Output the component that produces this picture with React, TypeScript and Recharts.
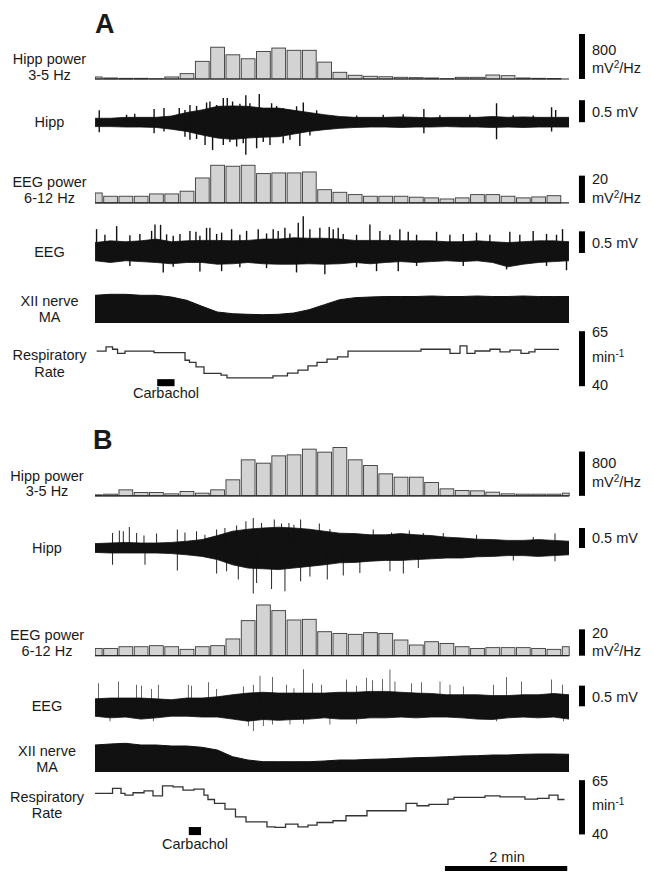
import React from 'react';
import { ComposedChart, Bar, Area, Line, XAxis, YAxis, ReferenceLine, ReferenceArea } from 'recharts';

// time axis shared by every row: seconds from the left edge of the traces
const LEFT = 95;
const CHART_W = 559;
const PX_PER_S = 474 / 465;
const T_MAX = CHART_W / PX_PER_S;
const SB_T = (582 - LEFT) / PX_PER_S; // x of the vertical scale bars
const BIN_W = 15 * PX_PER_S;
const FONT = "'Liberation Sans', Arial, Helvetica, sans-serif";

// centres of the 15 s power bins
const binT = [0, 15, 30, 45, 60, 75, 90, 105, 120, 135, 150, 165, 180, 195, 210, 225, 240, 255, 270, 285, 300, 315, 330, 345, 360, 375, 390, 405, 420, 435, 450, 465];

// ---- panel A ----
const hippPowA = [36, 18, 12, 12, 5, 36, 95, 314, 565, 430, 360, 490, 550, 510, 510, 300, 119, 66, 48, 40, 30, 24, 18, 6, 30, 30, 71, 59, 18, 12, 8];
const eegPowA = [7.3, 4.9, 4.9, 4.9, 6.6, 6.6, 8.6, 18.3, 27.6, 26.9, 27.6, 21.5, 22, 22, 22.7, 9.7, 7.8, 6.1, 4.9, 4.9, 4.9, 4.2, 3.7, 2.9, 3.7, 6.1, 6.1, 4.9, 3.7, 4.4, 5.3];

// hipp trace A, dense core envelope (mV)
const hippHiA = [0.09, 0.09, 0.11, 0.11, 0.11, 0.14, 0.22, 0.28, 0.36, 0.37, 0.36, 0.32, 0.32, 0.27, 0.22, 0.17, 0.13, 0.11, 0.11, 0.11, 0.12, 0.11, 0.1, 0.11, 0.11, 0.11, 0.13, 0.11, 0.12, 0.11, 0.11, 0.11];
const hippLoA = [-0.1, -0.1, -0.11, -0.11, -0.12, -0.16, -0.21, -0.29, -0.36, -0.39, -0.36, -0.34, -0.33, -0.27, -0.21, -0.17, -0.14, -0.12, -0.11, -0.11, -0.12, -0.11, -0.11, -0.1, -0.11, -0.11, -0.12, -0.11, -0.12, -0.11, -0.11, -0.11];
// [t, top, bottom]
const hippSpikesA = [
  [4.2, 0.27, -0.23], [31, 0.17, 0], [39, 0.19, 0], [58, 0.3, -0.25], [67.7, 0.32, -0.21], [82.7, 0.32, 0],
  [88.3, 0.28, -0.33], [93.2, 0.39, -0.4], [99.7, 0.37, -0.38], [108, 0, -0.52], [109.5, 0.45, 0], [112.8, 0.47, 0],
  [115.4, 0, -0.63], [119.4, 0.39, 0], [125.9, 0.55, -0.52], [129.8, 0.55, 0], [132.4, 0, -0.45], [135, 0.47, 0],
  [139, 0, -0.55], [142.2, 0.42, 0], [145.5, 0, -0.48], [148, 0.61, -0.74], [152, 0.43, 0], [158.6, 0, -0.59],
  [161.2, 0.64, 0], [165.1, 0, -0.45], [171.7, 0, -0.52], [173.3, 0.43, 0], [178.2, 0.37, 0], [184.7, 0.32, -0.48],
  [191.3, 0, -0.4], [197.8, 0.36, 0], [201, 0, -0.54], [204.4, 0.45, 0], [210.9, 0, -0.3], [217.5, 0.27, 0],
  [256.7, 0.15, 0], [282.8, 0.17, 0], [302.4, 0.18, 0], [322.7, 0.3, -0.25], [338.4, 0.16, 0], [367.8, 0.17, 0],
  [394, 0.43, -0.39], [410.3, 0.16, 0], [430, 0.15, 0], [448, 0.34, -0.21], [452, 0.28, 0],
];

// EEG trace A
const eegHiA = [0.24, 0.28, 0.26, 0.28, 0.32, 0.26, 0.28, 0.29, 0.29, 0.28, 0.29, 0.32, 0.32, 0.35, 0.34, 0.34, 0.32, 0.29, 0.29, 0.29, 0.28, 0.28, 0.28, 0.26, 0.26, 0.28, 0.26, 0.24, 0.26, 0.28, 0.28, 0.26];
const eegLoA = [-0.18, -0.22, -0.18, -0.2, -0.22, -0.25, -0.22, -0.22, -0.26, -0.25, -0.22, -0.25, -0.26, -0.26, -0.25, -0.26, -0.25, -0.22, -0.25, -0.22, -0.2, -0.22, -0.2, -0.18, -0.2, -0.18, -0.22, -0.32, -0.26, -0.22, -0.2, -0.18];
const eegSpikesA = [
  [1.6, 0.55, 0], [9.8, 0.42, 0], [21.3, 0.62, 0], [34.3, 0.41, -0.3], [44.1, 0.44, 0], [55.6, 0.51, 0],
  [58.9, 0.66, 0], [64.4, 0.65, 0], [67, 0, -0.45], [70.3, 0.43, 0], [76.8, 0.4, -0.32], [83.4, 0.44, 0],
  [93.2, 0.51, 0], [99.1, 0.49, 0], [103, 0.4, -0.43], [109.5, 0.58, 0], [112.8, 0.58, 0], [119.4, 0.44, 0],
  [124.3, 0.47, -0.42], [134.1, 0.55, 0], [142.2, 0.42, -0.33], [148.8, 0.51, 0], [160.2, 0.55, 0],
  [168.4, 0.45, -0.35], [174.9, 0.55, 0], [179.8, 0.51, 0], [186.4, 0.58, 0], [191.3, 0.45, 0],
  [197.8, 0, -0.45], [199.5, 0.7, 0], [204.4, 0.85, 0], [210.9, 0.55, 0], [220.7, 0.58, 0], [225.6, 0, -0.49],
  [229.9, 0.6, 0], [233.8, 0.55, 0], [238.7, 0.58, 0], [243.6, 0.44, 0], [256.7, 0.42, -0.33], [269.8, 0.66, 0],
  [276.3, 0, -0.42], [279.6, 0.51, 0], [289.4, 0.42, 0], [297.6, 0, -0.42], [299.2, 0.55, 0], [307.4, 0.49, 0],
  [315.6, 0.42, -0.3], [335.2, 0.49, 0], [348.3, 0.42, 0], [361.4, 0.44, -0.3], [374.4, 0.47, 0], [387.5, 0.42, 0],
  [403.9, 0, -0.38], [407.1, 0.49, 0], [416.9, 0.42, 0], [430, 0.51, 0], [443.1, 0.44, -0.3], [452.9, 0.42, 0],
  [458.8, 0.55, 0], [462.7, 0, -0.4],
];

// XII nerve moving average A (arbitrary units above its baseline)
const xiiA = [27.7, 28.7, 28.7, 27.7, 27.7, 26, 22.7, 16.7, 11, 9.3, 8.7, 8.3, 8.7, 10, 13.3, 18.3, 23.3, 25.3, 26, 26.5, 26.5, 26.5, 27, 26.5, 26.5, 27, 26.5, 26.5, 27, 26.5, 26.5, 26.5];

// respiratory rate A, [t, breaths/min] steps
const respA = [
  [1.6, 55.9], [10.8, 57.9], [17.2, 56.8], [22.1, 54.9], [29.4, 55.9], [57.9, 55.3], [88.3, 51.8], [92.7, 50.8],
  [99.1, 48.8], [106.9, 45.8], [123.6, 45], [129.5, 43.8], [174.6, 44.7], [188.8, 45.9], [199.1, 47.3], [208.9, 49.2],
  [217.8, 50.8], [227.6, 52.3], [237.9, 53.3], [248.2, 55.9], [319.8, 56.8], [348.3, 54.9], [358.1, 58.3],
  [364.9, 54.9], [372.8, 56], [387.5, 56.8], [397.3, 55.6], [407.1, 56.4], [417.9, 54.9], [425.7, 55.6],
  [431.6, 56.7], [455.2, 56.7],
];
const carbA = [61, 78];

// ---- panel B ----
const hippPowB = [18, 30, 108, 60, 60, 36, 78, 48, 108, 289, 650, 590, 722, 740, 843, 789, 872, 650, 547, 397, 337, 337, 241, 126, 96, 90, 66, 36, 30, 30, 30, 48];
const eegPowB = [5.5, 5.5, 6.8, 6.8, 7.6, 6.8, 4.8, 6.8, 7.6, 12.7, 26.6, 38.5, 34.2, 27.1, 27.6, 18.2, 16.9, 16.2, 17.5, 16.9, 11.9, 8.1, 10.6, 9.3, 6.8, 5.5, 6.1, 6.1, 6.1, 5.5, 4.8, 6.8];

const hippHiB = [0.11, 0.125, 0.14, 0.125, 0.125, 0.14, 0.17, 0.21, 0.31, 0.42, 0.47, 0.5, 0.52, 0.5, 0.47, 0.42, 0.37, 0.36, 0.33, 0.33, 0.36, 0.33, 0.31, 0.27, 0.25, 0.22, 0.21, 0.19, 0.19, 0.21, 0.19, 0.17];
const hippLoB = [-0.11, -0.125, -0.125, -0.125, -0.125, -0.14, -0.17, -0.21, -0.29, -0.42, -0.5, -0.52, -0.54, -0.5, -0.46, -0.42, -0.37, -0.36, -0.33, -0.31, -0.31, -0.29, -0.27, -0.25, -0.25, -0.22, -0.21, -0.19, -0.19, -0.21, -0.19, -0.17];
const hippSpikesB = [
  [17.3, 0.375, -0.42], [23.9, 0.44, 0], [27.8, 0.42, 0], [33.7, 0.525, 0], [40.9, 0.375, 0], [48.1, 0.31, 0],
  [49.1, 0, -0.42], [60.5, 0.36, 0], [80.8, 0.46, -0.56], [88.3, 0.39, 0], [99.7, 0.42, 0], [107.9, 0.33, 0],
  [119.4, 0.46, -0.64], [127.5, 0.5, 0], [129.2, 0, -0.58], [139, 0.56, 0], [140.6, 0, -0.79], [148.1, 0.67, 0],
  [155.3, 0.75, -1.14], [158.6, 0, -0.875], [163.5, 0.625, 0], [173.3, 0, -1.025], [175.9, 0.71, 0],
  [183.1, 0.61, 0], [186.4, 0, -1.08], [190.3, 0.625, 0], [195.2, 0.58, 0], [201.8, 0.71, -0.83],
  [210.9, 0, -0.71], [220.1, 0.61, 0], [227.9, 0, -0.79], [230.5, 0.475, 0], [243.6, 0, -0.69],
  [259.9, 0, -0.625], [273, 0.46, 0], [289.4, 0, -0.58], [291, 0.39, 0], [302.5, 0, -0.64], [308.4, 0.44, 0],
  [317.2, 0, -0.5], [322.1, 0.375, 0], [341.7, 0.375, 0], [374.4, 0.33, 0], [410.4, 0, -0.31], [430, 0.275, 0],
  [451.3, 0.36, -0.33],
];

const eegHiB = [0.18, 0.2, 0.2, 0.2, 0.18, 0.16, 0.2, 0.2, 0.23, 0.28, 0.32, 0.34, 0.32, 0.32, 0.32, 0.32, 0.34, 0.34, 0.36, 0.36, 0.34, 0.32, 0.31, 0.28, 0.28, 0.28, 0.26, 0.26, 0.28, 0.28, 0.31, 0.28];
const eegLoB = [-0.24, -0.28, -0.26, -0.31, -0.28, -0.24, -0.24, -0.26, -0.26, -0.31, -0.36, -0.32, -0.34, -0.32, -0.31, -0.28, -0.31, -0.31, -0.28, -0.28, -0.26, -0.28, -0.26, -0.26, -0.28, -0.31, -0.32, -0.28, -0.26, -0.28, -0.26, -0.31];
const eegSpikesB = [
  [3.3, 0.56, 0], [14.7, 0, -0.36], [22.9, 0.6, 0], [40.9, 0.52, 0], [45.8, 0.5, 0], [55.6, 0.42, 0],
  [57.2, 0, -0.36], [62.1, 0.52, 0], [91.5, 0.52, 0], [94.8, 0.5, 0], [111.2, 0.58, 0], [119.4, 0.42, 0],
  [145.5, 0.48, 0], [150.4, 0, -0.48], [155.3, 0.52, -0.6], [161.9, 0.74, 0], [165.1, 0, -0.48],
  [174.3, 0.71, -0.44], [188, 0.52, 0], [191.3, 0, -0.44], [195.2, 0.44, 0], [204.4, 0.9, -0.42],
  [213.5, 0.56, 0], [222.4, 0.52, 0], [230.5, 0, -0.44], [246.9, 0.65, 0], [256.7, 0.5, -0.42],
  [266.5, 0.69, 0], [272.4, 0.63, 0], [282.2, 0.66, 0], [289.4, 0.89, 0], [294.3, 0.6, 0], [310.7, 0.56, 0],
  [320.5, 0.58, 0], [338.5, 0.6, 0], [348.3, 0.52, 0], [361.4, 0.48, 0], [390.8, 0.52, 0], [394.1, 0, -0.36],
  [403.9, 0.71, 0], [418.6, 0.6, 0], [448, 0.65, 0], [458.8, 0.52, 0], [459.5, 0, -0.36],
];

const xiiB = [27, 28, 28.7, 27, 27, 26, 26, 24.7, 22, 15.3, 12, 10.3, 10.3, 10.3, 10.3, 11, 12, 12, 12.7, 13, 13.7, 14.3, 14.7, 15.3, 16, 16.3, 17, 17, 17.7, 18, 18, 17.7];

const respB = [
  [0, 58.9], [17.2, 61.2], [25.5, 58.9], [29.4, 58.1], [37.3, 59.2], [48.1, 60.1], [56.9, 57.8], [66.2, 62.4],
  [76.5, 61.9], [86.3, 60.4], [97.1, 60.9], [106.9, 58.1], [110.8, 56.1], [117.2, 54.3], [127.5, 51.7],
  [137.8, 48.1], [148.1, 45.8], [168.7, 43.5], [176.6, 43.2], [186.9, 44.7], [199.1, 43.5], [208.9, 44.3],
  [217.8, 45.5], [233.5, 46.3], [246.2, 48.6], [266.8, 50.9], [305.1, 54.3], [315.9, 53.2], [327.6, 53.8],
  [346.3, 56.3], [352.2, 57.1], [382.6, 57.8], [397.3, 57.3], [421.8, 56.3], [434.1, 56.6], [445.4, 58.1],
  [454.2, 56.1], [460.6, 56.1],
];
const carbB = [92, 104];
const timeBar = [343.3, 463.3]; // 2 min

// ---- data builders ----
const bins = (v: number[]) => v.map((x, i) => ({ t: binT[i], v: x }));
const band = (hi: number[], lo: number[]) => binT.map((t, i) => ({ t, r: [lo[i], hi[i]] }));
const spikes = (s: number[][]) => s.map(([t, hi, lo]) => ({ t, r: [lo, hi] }));
const steps = (s: number[][]) => s.map(([t, r]) => ({ t, r }));

type RowProps = { y0: number; k: number; lo: number; hi: number; data: any[]; children: React.ReactNode };

// one horizontal strip; y0 = pixel of value 0, k = px per unit
function Row({ y0, k, lo, hi, data, children }: RowProps) {
  const top = y0 - hi * k;
  const height = (hi - lo) * k;
  return (
    <div style={{ position: 'absolute', left: LEFT, top, width: CHART_W, height }}>
      <ComposedChart width={CHART_W} height={height} data={data} margin={{ top: 0, right: 0, bottom: 0, left: 0 }}>
        <XAxis type="number" dataKey="t" domain={[0, T_MAX]} hide allowDataOverflow />
        <YAxis type="number" domain={[lo, hi]} hide allowDataOverflow />
        {children}
      </ComposedChart>
    </div>
  );
}

const HistBar = (p: any) => {
  const { x, y, width, height, payload } = p;
  let x0 = x;
  let x1 = x + width;
  if (payload && payload.t <= 0) x0 = x + width / 2;
  if (payload && payload.t >= 465) x1 = x + width / 2;
  return <rect x={x0} y={y} width={Math.max(0, x1 - x0)} height={Math.max(0, height)} fill="#d3d3d3" stroke="#3a3a3a" strokeWidth={0.9} />;
};

const scaleBar = (a: number, b: number) => (
  <ReferenceLine segment={[{ x: SB_T, y: a }, { x: SB_T, y: b }]} stroke="#000" strokeWidth={6} />
);

function PowerRow({ values, y0, k, hi, bar }: { values: number[]; y0: number; k: number; hi: number; bar: number }) {
  return (
    <Row y0={y0} k={k} lo={-hi * 0.04} hi={hi} data={bins(values)}>
      <Bar dataKey="v" barSize={BIN_W} shape={HistBar} isAnimationActive={false} />
      <ReferenceLine segment={[{ x: 0, y: 0 }, { x: 465, y: 0 }]} stroke="#222" strokeWidth={1.2} />
      {scaleBar(0, bar)}
    </Row>
  );
}

function TraceRow({ hi, lo, sp, y0, k, dlo, dhi }: { hi: number[]; lo: number[]; sp: number[][]; y0: number; k: number; dlo: number; dhi: number }) {
  return (
    <>
      <Row y0={y0} k={k} lo={dlo} hi={dhi} data={band(hi, lo)}>
        <Area type="linear" dataKey="r" stroke="#111" strokeWidth={0.8} fill="#111" fillOpacity={1} dot={false} activeDot={false} isAnimationActive={false} />
        {scaleBar(0, 0.5)}
      </Row>
      <Row y0={y0} k={k} lo={dlo} hi={dhi} data={spikes(sp)}>
        <Bar dataKey="r" barSize={1.4} fill="#111" isAnimationActive={false} />
      </Row>
    </>
  );
}

function XiiRow({ values, y0 }: { values: number[]; y0: number }) {
  return (
    <Row y0={y0} k={1} lo={-1} hi={33} data={bins(values)}>
      <Area type="linear" dataKey="v" baseValue={0} stroke="#111" strokeWidth={1} fill="#111" fillOpacity={1} dot={false} activeDot={false} isAnimationActive={false} />
    </Row>
  );
}

const Txt = ({ x, y, a = 'middle', s = 14.5, b = false, children }: any) => (
  <text x={x} y={y} textAnchor={a} fontSize={s} fontWeight={b ? 700 : 400} fill="#1a1a1a" fontFamily={FONT}>
    {children}
  </text>
);

const Pow = ({ x, y }: { x: number; y: number }) => (
  <Txt x={x} y={y} a="start">
    mV<tspan dy={-5} fontSize={10}>2</tspan>
    <tspan dy={5}>/Hz</tspan>
  </Txt>
);

const PerMin = ({ x, y }: { x: number; y: number }) => (
  <Txt x={x} y={y} a="start">
    min<tspan dy={-5} fontSize={10}>-1</tspan>
  </Txt>
);

export default function App() {
  return (
    <div style={{ position: 'absolute', left: 0, top: 0, width: 654, height: 882, background: '#fff', overflow: 'hidden' }}>
      {/* panel A */}
      <PowerRow values={hippPowA} y0={79.3} k={45 / 800} hi={800} bar={800} />
      <TraceRow hi={hippHiA} lo={hippLoA} sp={hippSpikesA} y0={122.3} k={44} dlo={-0.8} dhi={0.8} />
      <PowerRow values={eegPowA} y0={203.3} k={1.365} hi={30} bar={20} />
      <TraceRow hi={eegHiA} lo={eegLoA} sp={eegSpikesA} y0={253} k={43.3} dlo={-0.6} dhi={0.9} />
      <XiiRow values={xiiA} y0={322.7} />
      <Row y0={386 + 40 * 2.2} k={2.2} lo={38} hi={66} data={steps(respA)}>
        <Line type="stepAfter" dataKey="r" stroke="#333" strokeWidth={1.3} dot={false} activeDot={false} isAnimationActive={false} />
        {scaleBar(40, 65)}
        <ReferenceArea x1={carbA[0]} x2={carbA[1]} y1={40} y2={43.2} fill="#000" fillOpacity={1} stroke="none" />
      </Row>

      {/* panel B */}
      <PowerRow values={hippPowB} y0={496} k={44.3 / 800} hi={900} bar={800} />
      <TraceRow hi={hippHiB} lo={hippLoB} sp={hippSpikesB} y0={548.3} k={40} dlo={-1.25} dhi={0.9} />
      <PowerRow values={eegPowB} y0={655.7} k={1.317} hi={40} bar={20} />
      <TraceRow hi={eegHiB} lo={eegLoB} sp={eegSpikesB} y0={706.7} k={41.3} dlo={-0.7} dhi={1.0} />
      <XiiRow values={xiiB} y0={772} />
      <Row y0={834.3 + 40 * 2.17} k={2.17} lo={20} hi={66} data={steps(respB)}>
        <Line type="stepAfter" dataKey="r" stroke="#333" strokeWidth={1.3} dot={false} activeDot={false} isAnimationActive={false} />
        {scaleBar(40, 65)}
        <ReferenceArea x1={carbB[0]} x2={carbB[1]} y1={39.7} y2={43.4} fill="#000" fillOpacity={1} stroke="none" />
        <ReferenceArea x1={timeBar[0]} x2={timeBar[1]} y1={23.1} y2={25.4} fill="#000" fillOpacity={1} stroke="none" />
      </Row>

      <svg width={654} height={882} style={{ position: 'absolute', left: 0, top: 0, pointerEvents: 'none' }}>
        <Txt x={95} y={33} a="start" s={27} b>A</Txt>
        <Txt x={49.5} y={64}>Hipp power</Txt>
        <Txt x={49.5} y={79.5}>3-5 Hz</Txt>
        <Txt x={49.5} y={127}>Hipp</Txt>
        <Txt x={49.5} y={187}>EEG power</Txt>
        <Txt x={49.5} y={203}>6-12 Hz</Txt>
        <Txt x={49.5} y={257}>EEG</Txt>
        <Txt x={49.5} y={306}>XII nerve</Txt>
        <Txt x={49.5} y={322}>MA</Txt>
        <Txt x={49.5} y={360}>Respiratory</Txt>
        <Txt x={49.5} y={377}>Rate</Txt>
        <Txt x={166} y={398}>Carbachol</Txt>
        <Txt x={592} y={55} a="start">800</Txt>
        <Pow x={592} y={72.5} />
        <Txt x={592} y={117} a="start">0.5 mV</Txt>
        <Txt x={592} y={184} a="start">20</Txt>
        <Pow x={592} y={203} />
        <Txt x={592} y={248} a="start">0.5 mV</Txt>
        <Txt x={592} y={337} a="start">65</Txt>
        <PerMin x={592} y={362} />
        <Txt x={592} y={390} a="start">40</Txt>

        <Txt x={93} y={449} a="start" s={27} b>B</Txt>
        <Txt x={47} y={480.5}>Hipp power</Txt>
        <Txt x={47} y={496}>3-5 Hz</Txt>
        <Txt x={47} y={553}>Hipp</Txt>
        <Txt x={47} y={640}>EEG power</Txt>
        <Txt x={47} y={656}>6-12 Hz</Txt>
        <Txt x={47} y={711}>EEG</Txt>
        <Txt x={47} y={756}>XII nerve</Txt>
        <Txt x={47} y={772}>MA</Txt>
        <Txt x={47} y={802}>Respiratory</Txt>
        <Txt x={47} y={818}>Rate</Txt>
        <Txt x={195} y={849}>Carbachol</Txt>
        <Txt x={592} y={468} a="start">800</Txt>
        <Pow x={592} y={487} />
        <Txt x={592} y={543} a="start">0.5 mV</Txt>
        <Txt x={592} y={638} a="start">20</Txt>
        <Pow x={592} y={656} />
        <Txt x={592} y={702} a="start">0.5 mV</Txt>
        <Txt x={592} y={786} a="start">65</Txt>
        <PerMin x={592} y={810} />
        <Txt x={592} y={839} a="start">40</Txt>
        <Txt x={507} y={862}>2 min</Txt>
      </svg>
    </div>
  );
}
